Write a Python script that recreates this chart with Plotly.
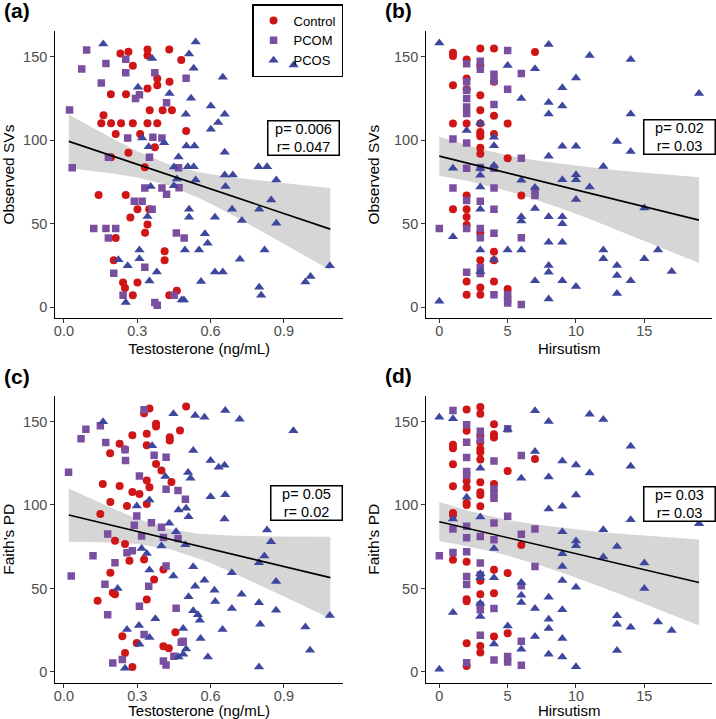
import plotly.graph_objects as go

# ---------------- data: panel (a) testosterone vs observed SVs ----------------
a_ctrl_x = [0.342,0.431,0.231,0.264,0.342,0.282,0.48,0.382,0.382,0.432,0.342,0.192,0.254,0.404,0.442,0.351,0.162,
            0.153,0.193,0.234,0.282,0.342,0.382,0.212,0.312,0.264,0.372,0.193,0.331,0.142,0.253,0.301,0.349,0.272,
            0.342,0.332,0.212,0.412,0.204,0.412,0.242,0.25,0.301,0.282,0.431,0.5,0.462]
a_ctrl_y = [154.4,154.4,152,153,150.7,144.7,148,137,133,135,131,127.5,127.5,118,118,118,115,
            110.2,110.2,110.2,110.2,110.2,110.2,103.8,103.8,92.6,95.8,89.8,83.8,67.3,67.3,58.7,58.7,53.7,
            49.5,44.7,41.5,33.5,28.1,28.1,14.8,11.6,14.8,7.2,7.2,105.6,9.9]
a_pcom_x = [0.093,0.073,0.253,0.172,0.253,0.153,0.372,0.293,0.309,0.42,0.023,0.261,0.364,0.401,0.182,0.35,0.034,
            0.469,0.331,0.401,0.42,0.288,0.32,0.361,0.122,0.172,0.212,0.182,0.46,0.331,0.204,0.242,0.372,0.382,
            0.451,0.5,0.471,0.492]
a_pcom_y = [154,142.7,148.5,146,140.5,134.3,140.5,125,127.3,122.5,118.2,101.4,101.8,101.4,89.8,89.8,83.6,
            83.6,71.5,71.5,67.7,63.5,63.5,58.7,47.1,47.1,47.1,41.5,44.5,24,20.4,7.2,2.8,1.2,
            7.2,137.1,71.6,41.5]
a_pcos_x = [0.161,0.361,0.303,0.432,0.32,0.347,0.41,0.469,0.45,0.462,0.45,0.355,0.342,0.223,0.261,0.309,0.309,0.38,
            0.35,0.253,0.482,0.539,0.512,0.531,0.65,0.52,0.601,0.658,0.499,0.631,0.601,0.501,0.534,0.658,0.507,
            0.531,0.658,0.691,0.796,0.831,0.539,0.869,0.661,0.848,0.512,0.512,0.688,0.799,0.618,0.728,0.869,
            0.577,0.588,0.495,0.553,0.821,0.72,0.618,0.65,0.561,0.799,0.807,0.491,0.988,1.009,1.088,0.94]
a_pcos_y = [157.7,149,131.7,128,101.4,96.2,98.5,90,84,76.8,72.8,72.3,54.3,28.5,24.8,29.1,34.3,21.2,
            15.8,2.8,4.4,158.9,151.7,143.1,137.7,125.1,120.6,115.6,115.6,110.6,106.6,96.6,96.6,92.8,84.2,
            84.2,79.2,79.2,84.2,84.2,76.2,76.2,72.3,64.3,58.7,53.9,58.7,58.7,53.9,51.9,50.3,
            44,38.3,34.3,34.3,34.3,28.7,21.2,21.2,15.4,12,7.2,4.4,15.2,18.4,24.8,145.1]

# ---------------- data: panel (b) hirsutism vs observed SVs ----------------
b_ctrl_x = [1]*5 + [2]*10 + [3]*14 + [4]*7 + [5]*3 + [6] + [7]
b_ctrl_y = [152.4,150.4,133,110,58.7,
            148.4,137,130.6,110,67,58.7,54,49.2,15.5,7.5,
            155,144.8,127,118,110,105,103.8,102.4,95.6,92,44.8,28.2,11.9,7.5,
            155,135,114.7,103.8,33.3,28.2,15.5,
            110,89.3,11,
            67,
            152.8]
b_pcom_x = [0] + [1]*2 + [2]*11 + [3]*8 + [4]*8 + [5]*5 + [6]*4 + [7]*2
b_pcom_y = [47.2,
            100.8,71.4,
            145.8,135,130,125,120,116,98.4,83.3,63.9,47.2,21,
            147.4,142.5,83.7,63.5,47.2,41.7,23.8,20.2,
            139.5,135.5,121.4,83.3,71.4,58.7,44.4,7.5,
            153.8,130.6,7.5,4.6,2.6,
            140,89.3,41.7,1.6,
            70,67]
b_pcos_x = ([0]*2 + [1]*2 + [2] + [3]*7 + [4]*4 + [5]*2 + [6]*5 + [7]*4 + [8]*9 + [9]*8 + [10]*6
            + [11]*2 + [12]*3 + [13]*4 + [14]*4 + [15]*2 + [16] + [17] + [19])
b_pcos_y = [158.3,3.6,
            83.3,42.3,
            105.8,
            110.3,83.3,79,72,58.7,34.3,21.4,
            101.8,96.8,84.9,28.4,
            144.8,34.3,
            125,76,54.2,51.6,34.3,
            142.9,71.8,59.1,15.9,
            157.3,122.6,115.7,90.5,54.2,38.9,25,21,5,
            131.5,120.6,96.4,76.4,54.2,50,38.9,15.9,
            137.3,96.4,79.4,76.4,64.5,12.5,
            150.8,72,
            84.3,34.3,29,
            99.2,25,19,8.3,
            148.4,115.7,93.3,15.9,
            59.5,29,
            34.3,
            21.4,
            128]

# ---------------- data: panel (c) testosterone vs Faith's PD ----------------
c_ctrl_x = [0.35,0.328,0.377,0.377,0.433,0.433,0.475,0.28,0.339,0.339,0.228,0.25,0.189,0.377,0.399,0.44,0.339,
            0.35,0.159,0.228,0.28,0.309,0.19,0.258,0.339,0.149,0.209,0.25,0.268,0.328,0.407,0.19,0.369,0.2,
            0.209,0.138,0.339,0.456,0.239,0.298,0.407,0.429,0.25,0.28,0.5]
c_ctrl_y = [157.8,155,148.6,147,140.6,138.6,144.6,141.8,142.6,135.8,136.6,133.4,131,124.6,120.6,113.8,114.6,
            110.6,112.6,111.4,107.8,106.6,101.8,99.4,100.6,94.6,78.6,76.6,66.6,67.4,61.4,59.4,55.4,47.4,
            46.6,42.6,43.4,23.8,21.4,17.4,15.4,14.2,11.4,3,159]
c_pcom_x = [0.328,0.149,0.09,0.07,0.171,0.25,0.252,0.369,0.418,0.309,0.019,0.418,0.467,0.298,0.288,0.179,0.358,
            0.399,0.407,0.318,0.467,0.258,0.28,0.209,0.119,0.418,0.03,0.168,0.347,0.179,0.309,0.459,0.328,
            0.48,0.407,0.418,0.45,0.2,0.239,0.497,0.488]
c_pcom_y = [157,147.4,145.4,139.6,137.4,133,126.6,129.8,128.6,117.4,119.6,109.4,108.6,93.4,87.8,82.6,89.4,
            86.6,80.6,81.4,80,71.4,72.6,65.4,69.6,63.4,57.4,52.6,51.4,34.2,39.4,38.2,22.4,
            17.8,6.6,4.2,9.4,5.4,7.4,103.4,18.4]
c_pcos_x = [0.16,0.448,0.361,0.415,0.35,0.298,0.431,0.469,0.459,0.399,0.318,0.339,0.35,0.448,0.22,0.258,0.307,
            0.35,0.309,0.374,0.25,0.469,0.537,0.575,0.66,0.719,0.939,0.529,0.6,0.633,0.657,0.508,0.518,0.6,
            0.66,0.5,0.51,0.657,0.831,0.847,0.497,0.82,0.798,0.529,0.687,0.868,0.575,0.537,0.616,0.727,0.51,
            0.619,0.798,0.529,0.548,0.556,0.687,0.868,0.488,0.649,0.803,0.988,0.559,1.088,0.5,0.488,0.589,
            1.007,0.798]
c_pcos_y = [149.8,154.6,135.4,117,103,99.4,89,97,84,75.4,74,71,61,57.4,50,25.4,27.8,
            20.6,16.6,31.8,2.2,9,153.6,152.6,156.6,151.4,144.4,132.6,126.6,122.6,123.8,119.4,116,105,
            106.2,98,93,91.6,85,78,76.2,69.4,65.4,63,59.4,54.2,55,51.4,49,46.6,45,
            42.2,41.4,36.6,34.2,31,38,37,26,25.4,28.6,27,20,33.8,13.8,10.6,9,
            13,3]

# ---------------- data: panel (d) hirsutism vs Faith's PD ----------------
d_ctrl_x = [1]*7 + [2]*11 + [3]*15 + [4]*7 + [5]*3 + [6] + [7]
d_ctrl_y = [136,134,124.4,111.2,95.2,94,67.2,
            157.2,144.4,114.4,110.4,101.2,100,66,43.6,42.4,17.2,3.6,
            158.6,154.6,141.6,137.6,133.6,131.6,127.2,113.6,107.6,106,99.2,54.6,46.6,15.6,11.6,
            148.4,142.4,140.4,112.6,61.2,47.2,21.2,
            120.4,59.2,23.2,
            76,
            127.6]
d_pcom_x = [0] + [1]*3 + [2]*11 + [3]*8 + [4]*8 + [5]*4 + [6]*5 + [7]*2
d_pcom_y = [69.6,
            156.6,85.6,71.6,
            148,137.6,128.4,120,118,87.2,80.4,72,57.2,52.4,5.6,
            144.2,139.2,81.2,65.2,58,40,37.2,22,
            126.4,109.6,106.8,104,89.2,79.2,38,7.2,
            145.6,93.2,9.2,6,
            129.6,82.4,51.6,18.4,4,
            85.6,63.2]
d_pcos_x = ([0]*2 + [1]*3 + [2] + [3]*6 + [4]*3 + [5]*2 + [6]*5 + [7]*4 + [8]*7 + [9]*9 + [10]*6
            + [11]*2 + [12]*3 + [13]*4 + [14]*4 + [15]*2 + [16] + [17] + [19])
d_pcos_y = [152.6,1.6,
            151.6,91.6,35.6,
            104.6,
            122,92.8,58.8,56.4,41.2,33.2,
            74,56.4,16.8,
            145.2,27.6,
            116,53.6,46,41.6,13.6,
            156.4,132,38,21.2,
            150,116.8,97.6,44.8,31.6,26,10.6,
            126.4,99.2,84,70.8,63.2,54.8,37.2,20,9,
            124,106,78.4,75.6,50.8,3.2,
            154.4,119.2,
            151.2,85.2,68.8,
            75.2,33.6,28.6,12.8,
            135.2,123.2,91.2,26.8,
            65.2,50,
            30,
            24.8,
            88.8]

# ---------------- fitted lines and 95% bands ----------------
ac_fit_x = [0.02,0.1,0.2,0.3,0.43,0.55,0.6,0.7,0.85,1.0,1.09]
a_fit_y = [99.35,95.4,90.5,85.6,79.2,73.3,70.9,66.0,58.6,51.2,46.8]
a_up = [115.4,108.9,100.9,93.5,85.5,81.0,79.7,77.6,75.0,72.7,71.4]
a_lo = [83.3,81.9,80.1,77.7,72.9,65.6,62.1,54.4,42.2,29.7,22.2]
c_fit_y = [94.0,91.2,87.7,84.2,79.6,75.4,73.8,70.2,64.9,59.7,56.5]
c_up = [109.9,104.5,97.9,91.8,85.6,82.8,82.3,81.6,81.2,81.1,81.0]
c_lo = [78.0,77.9,77.5,76.6,73.6,68.0,65.3,58.8,48.6,38.3,32.0]
bd_fit_x = [0,1,2,3.5,5,7,9,11,13,15,17,19]
b_fit_y = [90.5,88.5,86.5,83.4,80.4,76.4,72.4,68.3,64.3,60.3,56.2,52.2]
b_up = [102.3,99.6,97.2,93.9,91.1,88.1,85.8,83.8,82.1,80.6,79.2,77.9]
b_lo = [78.8,77.3,75.7,72.9,69.7,64.6,59.0,52.8,46.5,39.9,33.2,26.5]
d_fit_y = [90.0,88.1,86.2,83.3,80.4,76.6,72.8,68.9,65.1,61.3,57.4,53.6]
d_up = [101.8,99.2,96.9,93.8,91.1,88.4,86.2,84.4,82.9,81.6,80.4,79.3]
d_lo = [78.3,76.9,75.5,72.8,69.7,64.8,59.4,53.4,47.3,40.9,34.4,27.9]

stats_text = ["p= 0.006<br>r= 0.047", "p= 0.02<br>r= 0.03", "p= 0.05<br>r= 0.02", "p= 0.03<br>r= 0.03"]
panel_tags = ["(a)", "(b)", "(c)", "(d)"]
group_names = ["Control", "PCOM", "PCOS"]
x_titles = ["Testosterone (ng/mL)", "Hirsutism", "Testosterone (ng/mL)", "Hirsutism"]
y_titles = ["Observed SVs", "Observed SVs", "Faith's PD", "Faith's PD"]

# ---------------- styling ----------------
FONT = "Liberation Sans, Arial, Helvetica, sans-serif"
COLORS = ["#D01517", "#7B4FA0", "#3E479E"]
SYMBOLS = ["circle", "square", "triangle-up"]
SIZES = [8, 7.5, 9]
W, H = 716, 719

panels = [
    dict(groups=[(a_ctrl_x, a_ctrl_y), (a_pcom_x, a_pcom_y), (a_pcos_x, a_pcos_y)],
         fx=ac_fit_x, fy=a_fit_y, up=a_up, lo=a_lo),
    dict(groups=[(b_ctrl_x, b_ctrl_y), (b_pcom_x, b_pcom_y), (b_pcos_x, b_pcos_y)],
         fx=bd_fit_x, fy=b_fit_y, up=b_up, lo=b_lo),
    dict(groups=[(c_ctrl_x, c_ctrl_y), (c_pcom_x, c_pcom_y), (c_pcos_x, c_pcos_y)],
         fx=ac_fit_x, fy=c_fit_y, up=c_up, lo=c_lo),
    dict(groups=[(d_ctrl_x, d_ctrl_y), (d_pcom_x, d_pcom_y), (d_pcos_x, d_pcos_y)],
         fx=bd_fit_x, fy=d_fit_y, up=d_up, lo=d_lo),
]

# pixel boxes of the four plotting panels (left, right, top, bottom)
boxes = [(53.5, 342.0, 30.9, 318.3), (425.5, 712.0, 30.9, 318.3),
         (53.5, 342.0, 395.6, 683.0), (425.5, 712.0, 395.6, 683.0)]
x_ranges = [[-0.035, 1.142], [-0.95, 19.95], [-0.035, 1.142], [-0.95, 19.95]]
y_range = [-6.6, 165.5]
x_ticks = [[0.0, 0.3, 0.6, 0.9], [0, 5, 10, 15], [0.0, 0.3, 0.6, 0.9], [0, 5, 10, 15]]
x_ticktext = [["0.0", "0.3", "0.6", "0.9"], ["0", "5", "10", "15"],
              ["0.0", "0.3", "0.6", "0.9"], ["0", "5", "10", "15"]]
tag_pos = [(0, -2.5), (382, -2.5), (0, 362.5), (382, 362)]
stat_pos = [(0.861, 0.628), (0.885, 0.63), (0.873, 0.626), (0.885, 0.624)]

fig = go.Figure()
layout = dict(width=W, height=H, margin=dict(l=0, r=0, t=0, b=0),
              paper_bgcolor="white", plot_bgcolor="white",
              font=dict(family=FONT, color="black"), annotations=[])

for i, p in enumerate(panels):
    k = "" if i == 0 else str(i + 1)
    xa, ya = "x" + k, "y" + k
    # confidence band
    fig.add_trace(go.Scatter(x=p["fx"] + p["fx"][::-1], y=p["up"] + p["lo"][::-1],
                             xaxis=xa, yaxis=ya, mode="lines", fill="toself",
                             fillcolor="rgba(153,153,153,0.4)", line=dict(width=0),
                             hoverinfo="skip", showlegend=False))
    for g, (gx, gy) in enumerate(p["groups"]):
        fig.add_trace(go.Scatter(x=gx, y=gy, xaxis=xa, yaxis=ya, mode="markers",
                                 name=group_names[g], legendgroup=group_names[g],
                                 showlegend=(i == 0),
                                 marker=dict(symbol=SYMBOLS[g], size=SIZES[g], color=COLORS[g],
                                             line=dict(width=0))))
    fig.add_trace(go.Scatter(x=p["fx"], y=p["fy"], xaxis=xa, yaxis=ya, mode="lines",
                             line=dict(color="black", width=1.6), hoverinfo="skip",
                             showlegend=False))

    l, r, t, b = boxes[i]
    common = dict(showline=True, linecolor="black", linewidth=1.3, ticks="outside",
                  ticklen=4, tickwidth=1.1, tickcolor="#333333", showgrid=False, zeroline=False,
                  tickfont=dict(size=14.5, color="#4D4D4D", family=FONT))
    layout["xaxis" + k] = dict(common, domain=[l / W, r / W], range=x_ranges[i], anchor=ya,
                               tickvals=x_ticks[i], ticktext=x_ticktext[i], ticklabelstandoff=-5,
                               title=dict(text=x_titles[i], font=dict(size=15, color="black"),
                                          standoff=5))
    layout["yaxis" + k] = dict(common, domain=[1 - b / H, 1 - t / H], range=y_range, anchor=xa,
                               tickvals=[0, 50, 100, 150],
                               title=dict(text=y_titles[i], font=dict(size=15.5, color="black"),
                                          standoff=10))
    tx, ty = tag_pos[i]
    layout["annotations"].append(dict(text="<b>" + panel_tags[i] + "</b>", xref="paper", yref="paper",
                                      x=tx / W, y=1 - ty / H, xanchor="left", yanchor="top",
                                      showarrow=False, font=dict(size=21, color="black")))
    sx, sy = stat_pos[i]
    layout["annotations"].append(dict(text=stats_text[i], xref=xa + " domain", yref=ya + " domain",
                                      x=sx, y=sy, xanchor="center", yanchor="middle", showarrow=False,
                                      align="center", valign="middle", width=68, height=31,
                                      font=dict(size=14.5, color="black"),
                                      bordercolor="black", borderwidth=1.5, borderpad=1,
                                      bgcolor="white"))

layout["legend"] = dict(x=342 / W, y=1 - 4 / H, xanchor="right", yanchor="top",
                        bordercolor="black", borderwidth=1.5, bgcolor="rgba(255,255,255,0)",
                        font=dict(size=13, color="black"), tracegroupgap=0, itemwidth=30)
fig.update_layout(**layout)
fig.write_html("out.html", config={"displayModeBar": False},
               post_script="document.body.style.margin='0px';")
